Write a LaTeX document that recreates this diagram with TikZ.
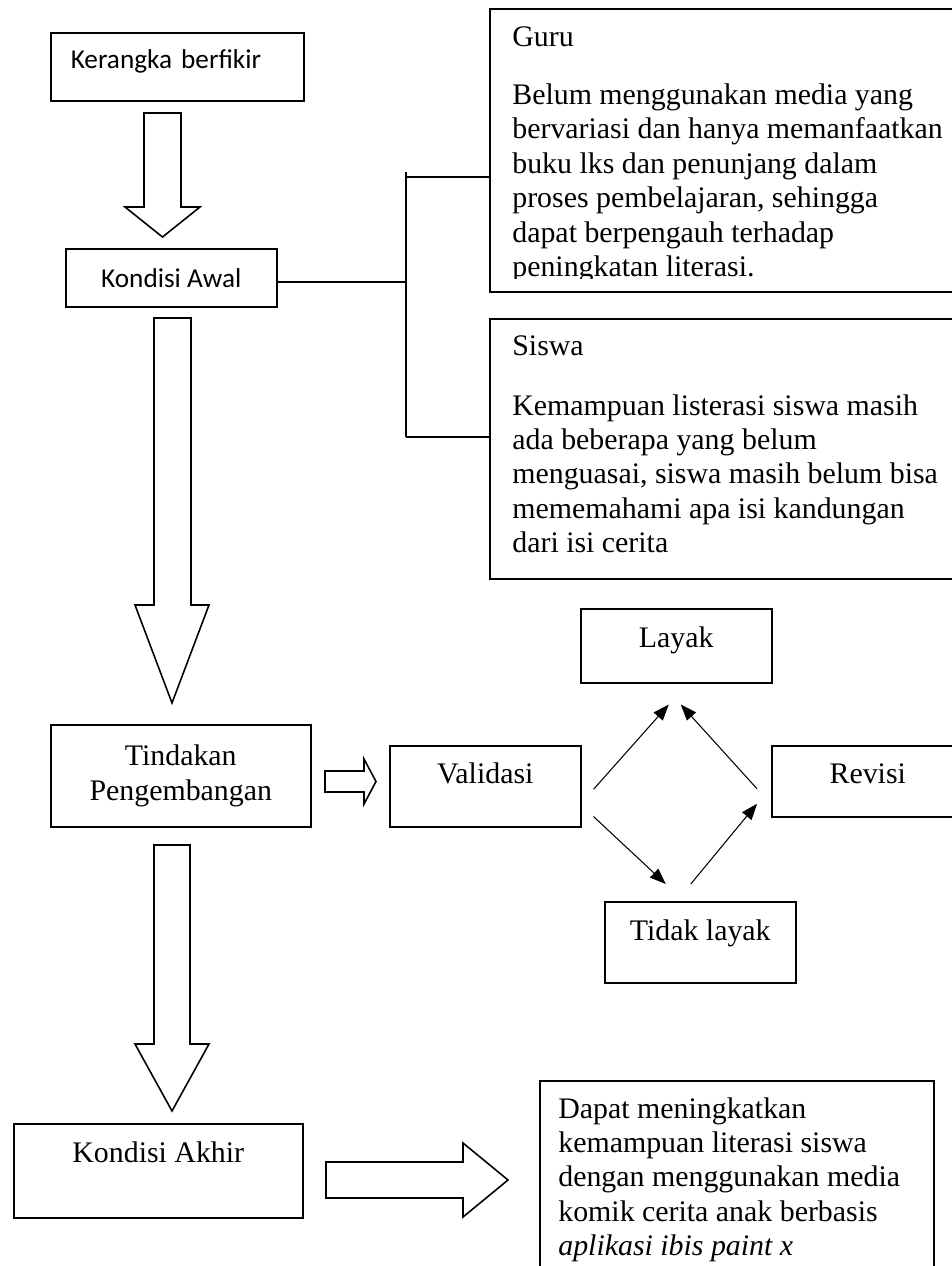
\documentclass[tikz,border=0pt]{standalone}
\usepackage{fontspec}
\setmainfont{Liberation Serif}
\newfontfamily\calibri{Carlito}
\usetikzlibrary{arrows.meta, positioning, calc}

\tikzset{
  kotak/.style={draw, line width=0.9pt, inner sep=0pt, font=\fontsize{17}{19.8}\selectfont},
  kotakc/.style={kotak, font=\calibri\fontsize{15.5}{18}\selectfont},
  isi/.style={anchor=north west, inner sep=0pt, align=left, font=\fontsize{17}{19.6}\selectfont},
  blok/.style={draw, line width=0.9pt, line join=miter},
  panah/.style={-{Triangle[length=0.32cm, width=0.24cm]}, line width=0.6pt},
  garis/.style={line width=0.8pt}
}

\begin{document}
\begin{tikzpicture}[x=0.02cm, y=-0.02cm]
    \useasboundingbox (0,0) rectangle (952,1266);

    % Left column
    \node[kotakc, anchor=north west, text width=4.26cm, align=left, inner xsep=0.4cm,
          text height=0.72cm, text depth=0.64cm] (kerangka) at (50,32) {Kerangka berfikir};
    \node[kotakc, anchor=north west, minimum width=4.22cm, minimum height=1.16cm] (awal) at (65,248) {Kondisi Awal};
    \node[kotak, anchor=north west, minimum width=5.2cm, minimum height=2.04cm, align=center] (tindakan) at (50,724) {Tindakan\\Pengembangan};
    \node[kotak, anchor=north west, minimum width=5.78cm, text height=0.78cm, text depth=1.1cm] (akhir) at (13,1123) {Kondisi Akhir};

    % Validation loop
    \node[kotak, anchor=north west, minimum width=3.82cm, text height=0.76cm, text depth=0.86cm] (validasi) at (389,745) {Validasi};
    \node[kotak, anchor=north west, minimum width=3.82cm, text height=0.78cm, text depth=0.7cm] (layak) at (580,608) {Layak};
    \node[kotak, anchor=north west, minimum width=3.84cm, text height=0.76cm, text depth=0.66cm] (revisi) at (771,745) {Revisi};
    \node[kotak, anchor=north west, minimum width=3.82cm, text height=0.78cm, text depth=0.84cm] (tidak) at (604,901) {Tidak layak};

    % Text boxes on the right
    \node[kotak, anchor=north west, minimum width=9.5cm, minimum height=5.66cm] (guru) at (489,8) {};
    \node[kotak, anchor=north west, minimum width=9.5cm, minimum height=5.2cm] (siswa) at (489,318) {};
    \node[kotak, anchor=north west, minimum width=7.88cm, minimum height=4cm] (hasil) at (539,1080) {};

    \begin{scope}
        \clip (489,8) rectangle (952,279);
        \node[isi] (gurutxt) at (512,26) {Guru\\[13.5pt]
            Belum menggunakan media yang\\
            bervariasi dan hanya memanfaatkan\\
            buku lks dan penunjang dalam\\
            proses pembelajaran, sehingga\\
            dapat berpengauh terhadap\\
            peningkatan literasi.};
    \end{scope}
    \node[isi] (siswatxt) at (512,335) {Siswa\\[14.5pt]
        Kemampuan listerasi siswa masih\\
        ada beberapa yang belum\\
        menguasai, siswa masih belum bisa\\
        mememahami apa isi kandungan\\
        dari isi cerita};
    \node[isi] (hasiltxt) at (558,1097) {Dapat meningkatkan\\
        kemampuan literasi siswa\\
        dengan menggunakan media\\
        komik cerita anak berbasis\\
        \textit{aplikasi ibis paint x}};

    % Branch lines
    \coordinate (cabang) at (406,282);
    \coordinate (atas) at (406,177);
    \coordinate (bawah) at (406,437);
    \draw[garis] (awal.east |- cabang) -- (cabang);
    \draw[garis] ($(atas)+(0,-5)$) -- (bawah);
    \draw[garis] (atas) -- (atas -| guru.west);
    \draw[garis] (bawah) -- (bawah -| siswa.west);

    % Block arrows
    \draw[blok] (144,113) -- (181,113) -- (181,207) -- (200,207) -- (162.5,237) -- (125,207) -- (144,207) -- cycle;
    \draw[blok] (154,318) -- (191,318) -- (191,605) -- (209,605) -- (172,703) -- (135,605) -- (154,605) -- cycle;
    \draw[blok] (154,845) -- (190,845) -- (190,1044) -- (209,1044) -- (172,1111) -- (135,1044) -- (154,1044) -- cycle;
    \draw[blok] (325,771) -- (364,771) -- (364,759) -- (376,781.5) -- (364,804) -- (364,792) -- (325,792) -- cycle;
    \draw[blok] (326,1162) -- (463,1162) -- (463,1143) -- (508,1180) -- (463,1217) -- (463,1198) -- (326,1198) -- cycle;

    % Thin arrows
    \draw[panah] ($(validasi.east)+(12,3)$) -- ($(layak.south)+(-7.5,21)$);
    \draw[panah] ($(revisi.west)+(-14,7.5)$) -- ($(layak.south)+(4.5,21)$);
    \draw[panah] ($(validasi.south east)+(12,-11)$) -- ($(tidak.north)+(-34.5,-17)$);
    \draw[panah] ($(tidak.north)+(-9.5,-17)$) -- ($(revisi.west)+(-14,22.5)$);
\end{tikzpicture}
\end{document}
